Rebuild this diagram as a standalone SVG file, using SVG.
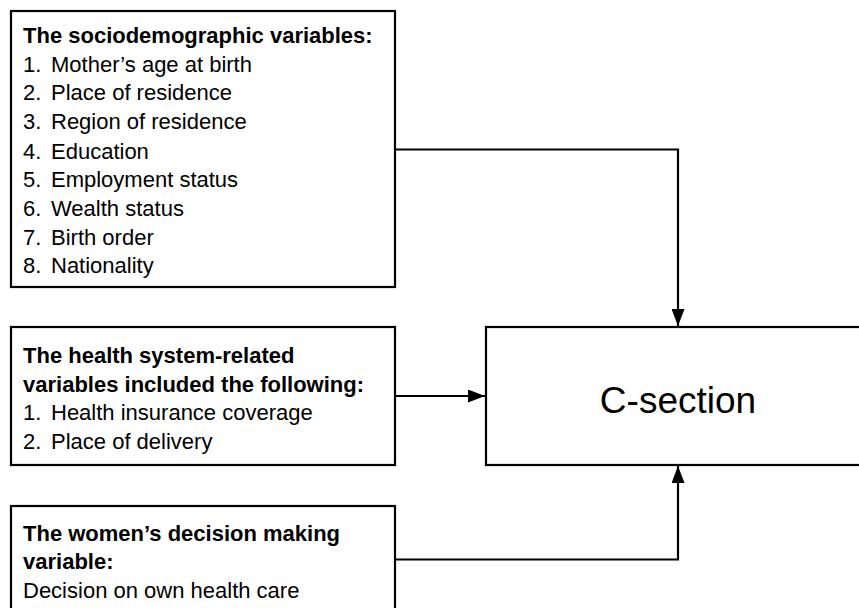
<svg xmlns="http://www.w3.org/2000/svg" width="859" height="608" viewBox="0 0 859 608">
<defs>
<style>
.box{fill:#fff;stroke:#000;stroke-width:2.2}
.t{font-family:"Liberation Sans",Arial,sans-serif;font-size:22px;fill:#000}
.b{font-weight:bold}
.c{stroke:#000;stroke-width:2.2;fill:none}
.big{font-family:"Liberation Sans",Arial,sans-serif;font-size:37px;fill:#000}
</style>
<marker id="ah" markerWidth="17" markerHeight="13" refX="17" refY="6.5" orient="auto" markerUnits="userSpaceOnUse">
<path d="M0,0 L17,6.5 L0,13 Z" fill="#000"/>
</marker>
</defs>
<rect width="859" height="608" fill="#fff"/>
<g id="socio">
<rect class="box" x="11" y="11" width="384" height="276"/>
<text class="t b" x="23" y="42.7">The sociodemographic variables:</text>
<text class="t" x="23" y="71.5">1.<tspan x="51">Mother’s age at birth</tspan></text>
<text class="t" x="23" y="100.3">2.<tspan x="51">Place of residence</tspan></text>
<text class="t" x="23" y="129.1">3.<tspan x="51">Region of residence</tspan></text>
<text class="t" x="23" y="158.5">4.<tspan x="51">Education</tspan></text>
<text class="t" x="23" y="187.2">5.<tspan x="51">Employment status</tspan></text>
<text class="t" x="23" y="215.9">6.<tspan x="51">Wealth status</tspan></text>
<text class="t" x="23" y="244.6">7.<tspan x="51">Birth order</tspan></text>
<text class="t" x="23" y="273.3">8.<tspan x="51">Nationality</tspan></text>
</g>
<g id="health">
<rect class="box" x="11" y="327" width="384" height="138"/>
<text class="t b" x="23" y="363">The health system-related</text>
<text class="t b" x="23" y="391.5">variables included the following:</text>
<text class="t" x="23" y="420">1.<tspan x="51">Health insurance coverage</tspan></text>
<text class="t" x="23" y="448.5">2.<tspan x="51">Place of delivery</tspan></text>
</g>
<g id="women">
<rect class="box" x="11" y="506" width="384" height="120"/>
<text class="t b" x="23" y="540.5">The women’s decision making</text>
<text class="t b" x="23" y="569.3">variable:</text>
<text class="t" x="23" y="597.7">Decision on own health care</text>
</g>
<g id="csection">
<rect class="box" x="486" y="327" width="390" height="138"/>
<text class="big" x="678" y="412.7" text-anchor="middle">C-section</text>
</g>
<g id="connectors">
<path class="c" d="M395,149.5 H678 V326" marker-end="url(#ah)"/>
<path class="c" d="M395,396 H485" marker-end="url(#ah)"/>
<path class="c" d="M395,559.5 H678 V466" marker-end="url(#ah)"/>
</g>
</svg>
